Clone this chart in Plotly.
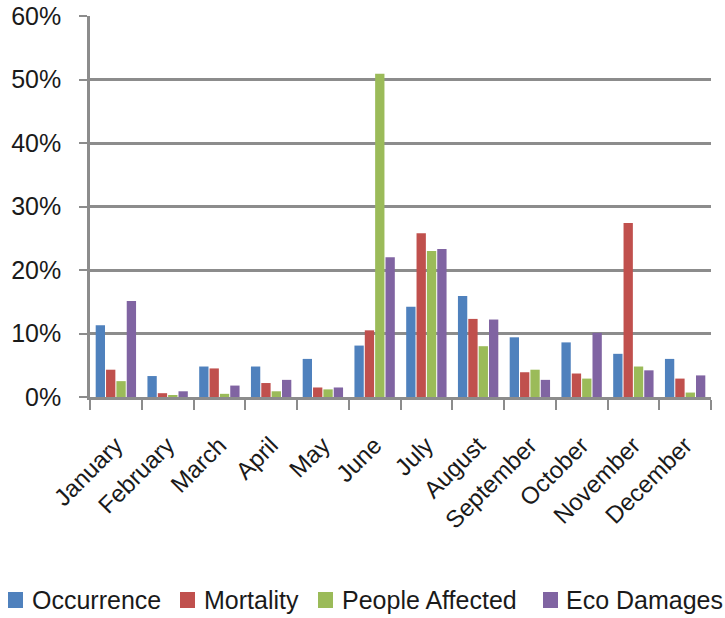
import plotly.graph_objects as go

months = ["January", "February", "March", "April", "May", "June", "July",
          "August", "September", "October", "November", "December"]
occurrence = [11.3, 3.3, 4.8, 4.8, 6.0, 8.1, 14.2, 15.9, 9.4, 8.6, 6.8, 6.0]
mortality = [4.3, 0.6, 4.5, 2.2, 1.5, 10.5, 25.8, 12.3, 3.9, 3.7, 27.4, 2.9]
people_affected = [2.5, 0.3, 0.5, 0.9, 1.2, 50.9, 23.0, 8.0, 4.3, 2.9, 4.8, 0.7]
eco_damages = [15.1, 0.9, 1.8, 2.7, 1.5, 22.0, 23.3, 12.2, 2.7, 10.1, 4.2, 3.4]

series_names = ["Occurrence", "Mortality", "People Affected", "Eco Damages"]
series_values = [occurrence, mortality, people_affected, eco_damages]
series_colors = ["#4F81BD", "#C0504D", "#9BBB59", "#8064A2"]

FONT = "Liberation Sans, Arial, sans-serif"
W, H = 725, 618

fig = go.Figure()
for name, vals, col in zip(series_names, series_values, series_colors):
    fig.add_trace(go.Bar(
        x=months, y=[v / 100 for v in vals], name=name,
        marker=dict(color=col, line=dict(color=col, width=0)),
        showlegend=False,
    ))

# Custom one-row legend (squares + labels) placed in pixel terms
legend_square_x = [8, 180, 318, 543]
legend_text_x = [30, 202, 340, 564]
legend_y = 600
for name, col, sx, tx in zip(series_names, series_colors, legend_square_x, legend_text_x):
    fig.add_shape(type="rect", xref="paper", yref="paper",
                  x0=(sx - 90) / (W - 104), x1=(sx + 15 - 90) / (W - 104),
                  y0=(397 - (legend_y + 8)) / 381, y1=(397 - (legend_y - 8)) / 381,
                  fillcolor=col, line=dict(width=0))
    fig.add_annotation(text=name, xref="paper", yref="paper",
                       x=(tx - 90) / (W - 104), y=(397 - legend_y) / 381,
                       xanchor="left", yanchor="middle", showarrow=False,
                       font=dict(size=25, family=FONT, color="#1a1a1a"))

fig.update_layout(
    width=W, height=H,
    margin=dict(l=90, r=14, t=16, b=221, autoexpand=False),
    paper_bgcolor="white", plot_bgcolor="white",
    barmode="group", bargap=0.2, bargroupgap=0.1,
    font=dict(family=FONT, color="#1a1a1a"),
    showlegend=False,
)
fig.update_yaxes(
    range=[0, 0.6], dtick=0.1, tickformat=".0%",
    showgrid=True, gridcolor="#8c8c8c", gridwidth=2.5,
    showline=True, linecolor="#8c8c8c", linewidth=2.5,
    ticks="outside", ticklen=8, tickcolor="#8c8c8c", tickwidth=2,
    ticklabelstandoff=13, automargin=False,
    tickfont=dict(size=25, family=FONT, color="#1a1a1a"),
    zeroline=False,
)
fig.update_xaxes(
    showline=True, linecolor="#8c8c8c", linewidth=2.5,
    ticks="outside", tickson="boundaries", ticklen=10, tickcolor="#8c8c8c", tickwidth=2,
    ticklabelstandoff=22,
    tickangle=-45, tickfont=dict(size=24, family=FONT, color="#1a1a1a"),
    showgrid=False, automargin=False,
)

fig.write_html("out.html", config={"displayModeBar": False},
               post_script="document.body.style.margin='0';")
